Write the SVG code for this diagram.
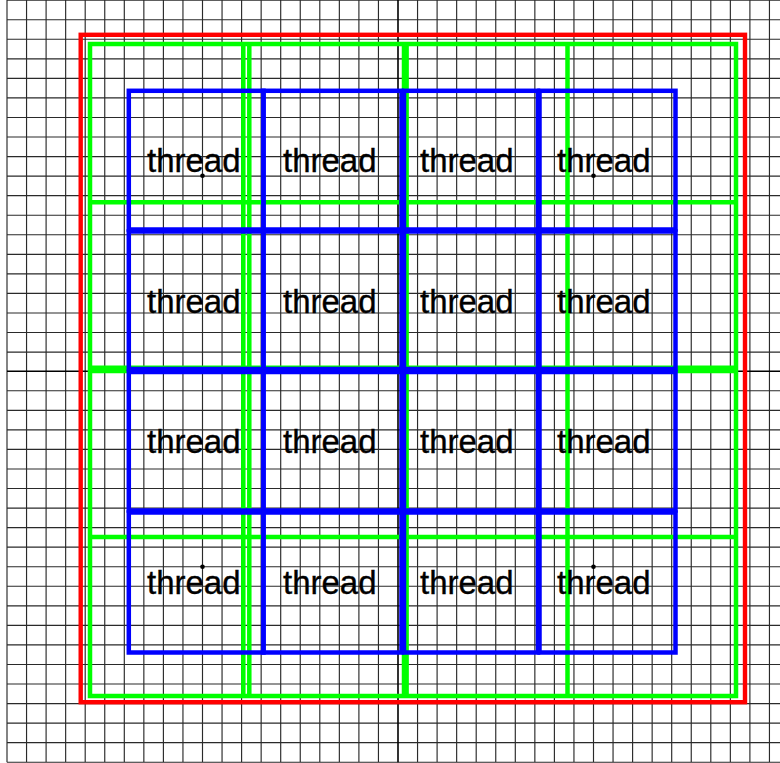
<svg xmlns="http://www.w3.org/2000/svg" width="780" height="763" viewBox="0 0 780 763">
<style>
.grid{fill:none;stroke:#2a2a2a;stroke-width:1.15}
.axis{fill:none;stroke:#000;stroke-width:1.6}
.red{fill:none;stroke:#ff0000;stroke-width:4.4}
.green{fill:none;stroke:#00ff00;stroke-width:4.5}
.cell{fill:none;stroke:#0000ff;stroke-width:4.5}
.lbl{font-family:"Liberation Sans",Arial,sans-serif;font-size:33px;fill:#000;stroke:#000;stroke-width:0.35}
.dot{fill:#000}
</style>
<rect width="780" height="763" fill="#fff"/>
<g id="grid">
<path class="grid" d="M7,0V762.2M26.55,0V762.2M46.1,0V762.2M65.65,0V762.2M85.2,0V762.2M104.75,0V762.2M124.3,0V762.2M143.85,0V762.2M163.4,0V762.2M182.95,0V762.2M202.5,0V762.2M222.05,0V762.2M241.6,0V762.2M261.15,0V762.2M280.7,0V762.2M300.25,0V762.2M319.8,0V762.2M339.35,0V762.2M358.9,0V762.2M378.45,0V762.2M417.55,0V762.2M437.1,0V762.2M456.65,0V762.2M476.2,0V762.2M495.75,0V762.2M515.3,0V762.2M534.85,0V762.2M554.4,0V762.2M573.95,0V762.2M593.5,0V762.2M613.05,0V762.2M632.6,0V762.2M652.15,0V762.2M671.7,0V762.2M691.25,0V762.2M710.8,0V762.2M730.35,0V762.2M749.9,0V762.2M769.45,0V762.2
M7,0.15H780M7,19.7H780M7,39.25H780M7,58.8H780M7,78.35H780M7,97.9H780M7,117.45H780M7,137H780M7,156.55H780M7,176.1H780M7,195.65H780M7,215.2H780M7,234.75H780M7,254.3H780M7,273.85H780M7,293.4H780M7,312.95H780M7,332.5H780M7,352.05H780M7,390.75H780M7,410.3H780M7,429.85H780M7,449.4H780M7,468.95H780M7,488.5H780M7,508.05H780M7,527.6H780M7,547.15H780M7,566.7H780M7,586.25H780M7,605.8H780M7,625.35H780M7,644.9H780M7,664.45H780M7,684H780M7,703.55H780M7,723.1H780M7,742.65H780M7,762.2H780"/>
<path class="axis" d="M398,0V762.2M7,371.2H780"/>
</g>
<g id="outer">
<rect class="red" x="80.7" y="34.8" width="664.3" height="667.4"/>
</g>
<g id="blocks">
<rect class="green" x="90" y="44" width="646" height="652"/>
<path class="green" d="M243.3,44V696M249.3,44V696M404,44V696M406.6,44V696M567.5,44V696M90,202.3H736M90,367.8H736M90,371H736M90,537H736"/>
</g>
<g id="threads">
<g id="t00"><rect class="cell" x="128.8" y="90.8" width="134.7" height="138.7"/><text class="lbl" x="147" y="172">thread</text></g>
<g id="t01"><rect class="cell" x="263.5" y="90.8" width="138" height="138.7"/><text class="lbl" x="283" y="172">thread</text></g>
<g id="t02"><rect class="cell" x="404" y="90.8" width="134" height="138.7"/><text class="lbl" x="420" y="172">thread</text></g>
<g id="t03"><rect class="cell" x="539.5" y="90.8" width="136" height="138.7"/><text class="lbl" x="557" y="172">thread</text></g>
<g id="t10"><rect class="cell" x="128.8" y="231.5" width="134.7" height="137.5"/><text class="lbl" x="147" y="312.5">thread</text></g>
<g id="t11"><rect class="cell" x="263.5" y="231.5" width="138" height="137.5"/><text class="lbl" x="283" y="312.5">thread</text></g>
<g id="t12"><rect class="cell" x="404" y="231.5" width="134" height="137.5"/><text class="lbl" x="420" y="312.5">thread</text></g>
<g id="t13"><rect class="cell" x="539.5" y="231.5" width="136" height="137.5"/><text class="lbl" x="557" y="312.5">thread</text></g>
<g id="t20"><rect class="cell" x="128.8" y="372" width="134.7" height="138.5"/><text class="lbl" x="147" y="453">thread</text></g>
<g id="t21"><rect class="cell" x="263.5" y="372" width="138" height="138.5"/><text class="lbl" x="283" y="453">thread</text></g>
<g id="t22"><rect class="cell" x="404" y="372" width="134" height="138.5"/><text class="lbl" x="420" y="453">thread</text></g>
<g id="t23"><rect class="cell" x="539.5" y="372" width="136" height="138.5"/><text class="lbl" x="557" y="453">thread</text></g>
<g id="t30"><rect class="cell" x="128.8" y="512.5" width="134.7" height="140"/><text class="lbl" x="147" y="594">thread</text></g>
<g id="t31"><rect class="cell" x="263.5" y="512.5" width="138" height="140"/><text class="lbl" x="283" y="594">thread</text></g>
<g id="t32"><rect class="cell" x="404" y="512.5" width="134" height="140"/><text class="lbl" x="420" y="594">thread</text></g>
<g id="t33"><rect class="cell" x="539.5" y="512.5" width="136" height="140"/><text class="lbl" x="557" y="594">thread</text></g>
</g>
<g id="points">
<circle class="dot" cx="202.5" cy="175.8" r="2.3"/>
<circle class="dot" cx="593.5" cy="175.8" r="2.3"/>
<circle class="dot" cx="202.5" cy="566.7" r="2.3"/>
<circle class="dot" cx="593.5" cy="566.7" r="2.3"/>
</g>
</svg>
